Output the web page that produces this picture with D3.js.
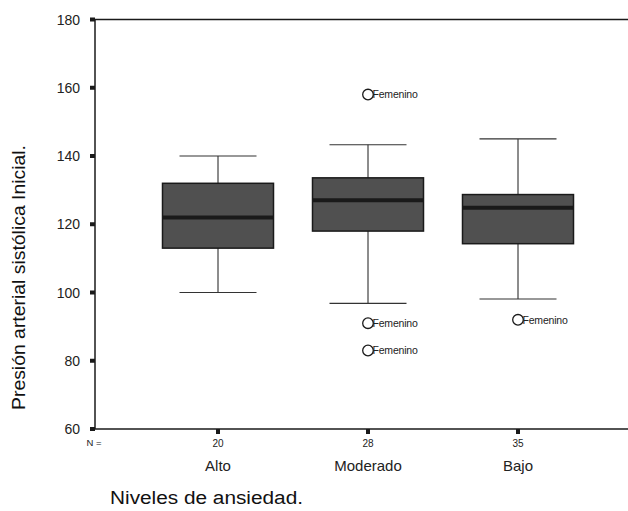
<!DOCTYPE html>
<html>
<head>
<meta charset="utf-8">
<script src="https://cdn.jsdelivr.net/npm/d3@7"></script>
<style>
  body { margin: 0; background: #fff; }
  svg { display: block; font-family: "Liberation Sans", Arial, sans-serif; }
</style>
</head>
<body>
<div id="plot-container"></div>
<script>
// categories and box statistics
var categories = ['Alto', 'Moderado', 'Bajo'];
var counts = [20, 28, 35];
var whiskerLow = [100, 96.8, 98.1];
var q1 = [113, 118, 114.3];
var medians = [122, 127, 124.8];
var q3 = [132, 133.6, 128.7];
var whiskerHigh = [140, 143.3, 145];
var outliers = [
  { cat: 'Moderado', value: 158, label: 'Femenino' },
  { cat: 'Moderado', value: 91, label: 'Femenino' },
  { cat: 'Moderado', value: 83, label: 'Femenino' },
  { cat: 'Bajo', value: 92, label: 'Femenino' }
];
var yTicks = [60, 80, 100, 120, 140, 160, 180];

var boxes = categories.map(function (c, i) {
  return { cat: c, n: counts[i], lo: whiskerLow[i], q1: q1[i], med: medians[i], q3: q3[i], hi: whiskerHigh[i] };
});

var width = 628, height = 511;
var plotLeft = 95, plotTop = 19.5, plotBottom = 429;

var svg = d3.select('#plot-container').append('svg')
  .attr('width', width)
  .attr('height', height);

var x = d3.scalePoint().domain(categories).range([plotLeft, 641]).padding(0.82);
var y = d3.scaleLinear().domain([60, 180]).range([plotBottom, plotTop]);

var boxW = 111, capW = 77;
var ink = '#1a1a1a';

// frame: top line + axes
svg.append('line')
  .attr('x1', plotLeft).attr('x2', width).attr('y1', plotTop).attr('y2', plotTop)
  .attr('stroke', ink).attr('stroke-width', 1.5);
svg.append('line')
  .attr('x1', plotLeft).attr('x2', plotLeft).attr('y1', plotTop).attr('y2', plotBottom)
  .attr('stroke', ink).attr('stroke-width', 1.5);
svg.append('line')
  .attr('x1', plotLeft).attr('x2', width).attr('y1', plotBottom).attr('y2', plotBottom)
  .attr('stroke', ink).attr('stroke-width', 1.5);

// y ticks (small squares) and labels
var yg = svg.append('g');
yg.selectAll('rect').data(yTicks).enter().append('rect')
  .attr('x', plotLeft - 5).attr('y', function (d) { return y(d) - 2; })
  .attr('width', 5).attr('height', 4).attr('fill', ink);
yg.selectAll('text').data(yTicks).enter().append('text')
  .attr('x', plotLeft - 15).attr('y', function (d) { return y(d); })
  .attr('dy', '0.36em').attr('text-anchor', 'end')
  .attr('font-size', 14).attr('fill', '#222')
  .text(function (d) { return d; });

// x ticks
svg.selectAll('.xtick').data(categories).enter().append('rect')
  .attr('class', 'xtick')
  .attr('x', function (d) { return x(d) - 2; }).attr('y', plotBottom)
  .attr('width', 4).attr('height', 5).attr('fill', ink);

// N = row
svg.append('text')
  .attr('x', 94).attr('y', 446).attr('text-anchor', 'middle')
  .attr('font-size', 9.5).attr('fill', '#222').text('N =');
svg.selectAll('.nlab').data(boxes).enter().append('text')
  .attr('class', 'nlab')
  .attr('x', function (d) { return x(d.cat); }).attr('y', 446.5)
  .attr('text-anchor', 'middle').attr('font-size', 10).attr('fill', '#222')
  .text(function (d) { return d.n; });

// category labels
svg.selectAll('.clab').data(categories).enter().append('text')
  .attr('class', 'clab')
  .attr('x', function (d) { return x(d); }).attr('y', 470.5)
  .attr('text-anchor', 'middle').attr('font-size', 15).attr('fill', '#222')
  .text(function (d) { return d; });

// axis titles
svg.append('text')
  .attr('x', 110).attr('y', 504)
  .attr('font-size', 18).attr('fill', '#111')
  .attr('textLength', 193).attr('lengthAdjust', 'spacingAndGlyphs')
  .text('Niveles de ansiedad.');
svg.append('text')
  .attr('transform', 'translate(25,277.5) rotate(-90)')
  .attr('text-anchor', 'middle')
  .attr('font-size', 18).attr('fill', '#111')
  .attr('textLength', 265).attr('lengthAdjust', 'spacingAndGlyphs')
  .text('Presión arterial sistólica Inicial.');

// boxes
var g = svg.selectAll('.box').data(boxes).enter().append('g').attr('class', 'box');
g.append('line')
  .attr('x1', function (d) { return x(d.cat); }).attr('x2', function (d) { return x(d.cat); })
  .attr('y1', function (d) { return y(d.hi); }).attr('y2', function (d) { return y(d.lo); })
  .attr('stroke', ink).attr('stroke-width', 1);
g.append('line')
  .attr('x1', function (d) { return x(d.cat) - capW / 2; }).attr('x2', function (d) { return x(d.cat) + capW / 2; })
  .attr('y1', function (d) { return y(d.hi); }).attr('y2', function (d) { return y(d.hi); })
  .attr('stroke', '#333').attr('stroke-width', 1.2);
g.append('line')
  .attr('x1', function (d) { return x(d.cat) - capW / 2; }).attr('x2', function (d) { return x(d.cat) + capW / 2; })
  .attr('y1', function (d) { return y(d.lo); }).attr('y2', function (d) { return y(d.lo); })
  .attr('stroke', '#333').attr('stroke-width', 1.2);
g.append('rect')
  .attr('x', function (d) { return x(d.cat) - boxW / 2; })
  .attr('y', function (d) { return y(d.q3); })
  .attr('width', boxW)
  .attr('height', function (d) { return y(d.q1) - y(d.q3); })
  .attr('fill', '#505050').attr('stroke', ink).attr('stroke-width', 1.5);
g.append('line')
  .attr('x1', function (d) { return x(d.cat) - boxW / 2; }).attr('x2', function (d) { return x(d.cat) + boxW / 2; })
  .attr('y1', function (d) { return y(d.med); }).attr('y2', function (d) { return y(d.med); })
  .attr('stroke', ink).attr('stroke-width', 4);

// outliers
var o = svg.selectAll('.out').data(outliers).enter().append('g').attr('class', 'out');
o.append('circle')
  .attr('cx', function (d) { return x(d.cat); }).attr('cy', function (d) { return y(d.value); })
  .attr('r', 5.3).attr('fill', 'none').attr('stroke', ink).attr('stroke-width', 1.3);
o.append('text')
  .attr('x', function (d) { return x(d.cat) + 4.5; }).attr('y', function (d) { return y(d.value); })
  .attr('dy', '0.36em').attr('font-size', 10.5).attr('letter-spacing', -0.2).attr('fill', '#222')
  .text(function (d) { return d.label; });
</script>
</body>
</html>
